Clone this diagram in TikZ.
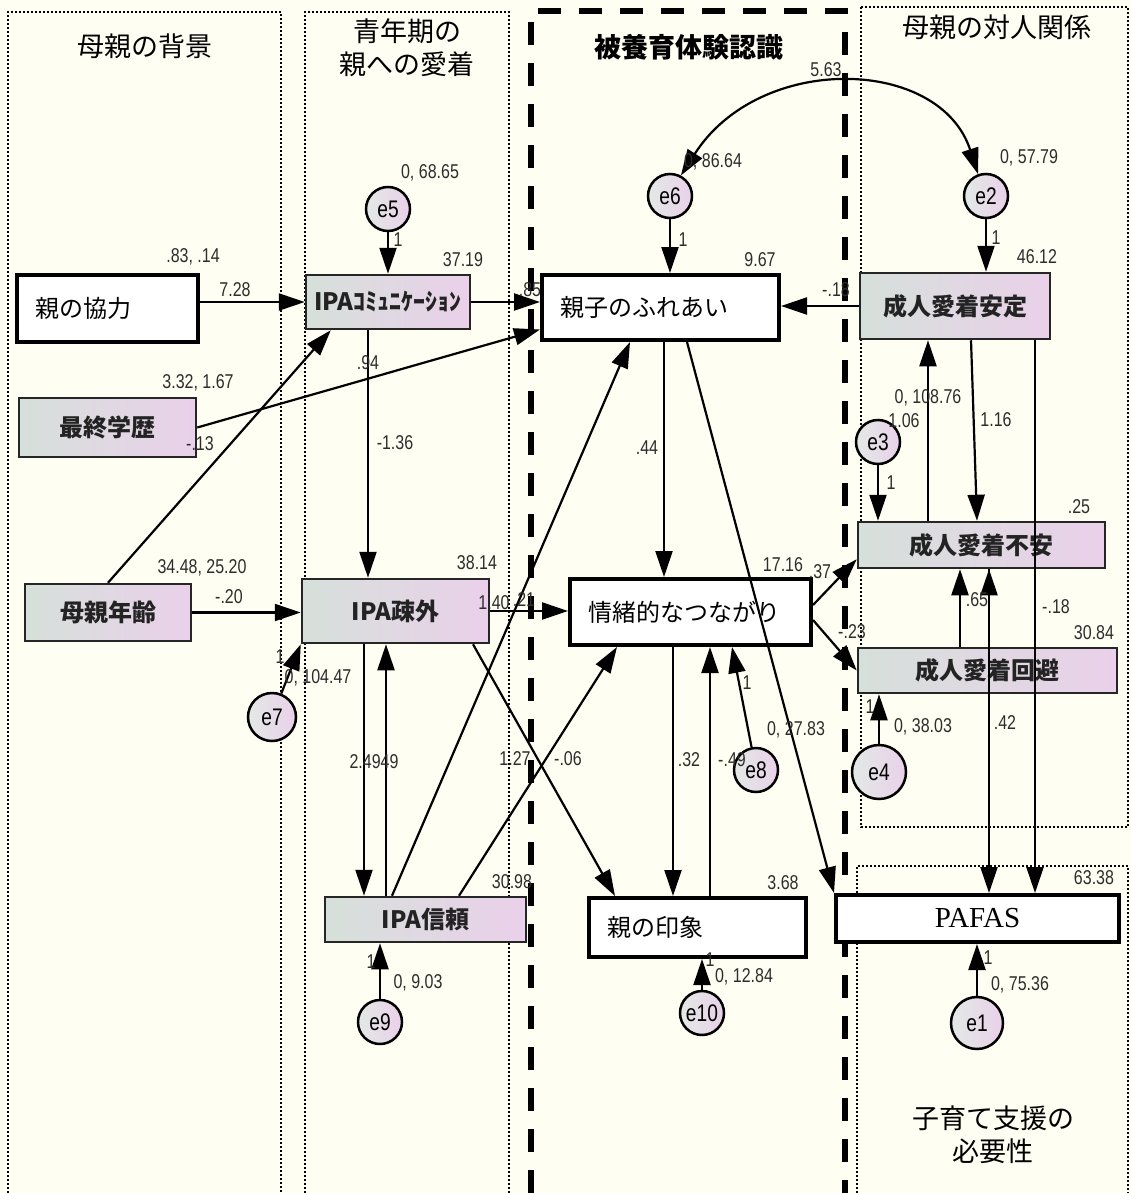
\documentclass[tikz,border=0pt]{standalone}
\usepackage{fontspec}
\newfontfamily\jpfont{Noto Sans CJK JP}
\newfontfamily\numfont[FakeStretch=0.8]{Liberation Sans}
\newfontfamily\latinserif{Liberation Serif}
\usepackage{tikz}
\usetikzlibrary{
	arrows.meta
}
\definecolor{bgcream}{RGB}{254,254,242}
\definecolor{gleft}{RGB}{214,224,218}
\definecolor{gright}{RGB}{234,208,234}
\definecolor{numgray}{RGB}{45,45,45}
\definecolor{boxtext}{RGB}{35,35,35}

\begin{document}
\begin{tikzpicture}[x=1pt,y=-1pt,
		>={Triangle[length=26pt,width=17pt]},
		conn/.style={draw,line width=2.2pt,->},
		dotline/.style={line width=2pt,dash pattern=on 2pt off 2pt},
		dashline/.style={line width=5.5pt,dash pattern=on 23pt off 18pt},
		ttl/.style={font=\jpfont\fontsize{27}{33}\selectfont,align=center,inner sep=0pt},
		wbox/.style={draw,line width=4pt,fill=white,font=\jpfont\fontsize{24}{24}\selectfont,
			align=left,inner xsep=18pt,inner ysep=0pt},
		gbox/.style={draw=black!85,line width=2.5pt,left color=gleft,right color=gright,
			text=boxtext,font=\jpfont\bfseries\fontsize{24}{24}\selectfont,inner sep=0pt},
		err/.style={circle,draw,line width=2.5pt,left color=gleft!70,right color=gright,
			minimum size=44pt,inner sep=0pt,font=\numfont\fontsize{24}{24}\selectfont},
		lbl/.style={font=\numfont\fontsize{20}{20}\selectfont,text=numgray,inner sep=0pt}
	]
	\useasboundingbox (0,0) rectangle (1131,1193);
	\fill[bgcream] (0,0) rectangle (1131,1193);

	% panels
	\draw[dotline] (8,1193) |- (281,12) -- (281,1193);
	\draw[dotline] (305,1193) |- (509,12) -- (509,1193);
	\draw[dotline] (861,7) rectangle (1128,827);
	\draw[dotline] (857,1193) |- (1128,866) -- (1128,1193);
	\draw[dashline] (531,1193) |- (845,11) -- (845,1193);

	\node[ttl] (tback)  at (145,46)   {母親の背景};
	\node[ttl] (tadol)  at (407,48)   {青年期の\\親への愛着};
	\node[ttl,font=\jpfont\bfseries\fontsize{27}{33}\selectfont] (tcare) at (689,47) {被養育体験認識};
	\node[ttl] (tinter) at (997,27)   {母親の対人関係};
	\node[ttl] (tneed)  at (993,1135) {子育て支援の\\必要性};

	% observed variables
	\node[wbox,text width=145pt,minimum height=67pt] (kyoryoku)  at (107.5,308.5) {親の協力};
	\node[gbox,minimum width=177pt,minimum height=59pt] (gakureki) at (107.5,427.5) {最終学歴};
	\node[gbox,minimum width=166pt,minimum height=57pt] (nenrei)   at (108,612.5)   {母親年齢};
	\node[gbox,minimum width=164pt,minimum height=54pt] (comm)     at (388,302)     {IPAｺﾐｭﾆｹｰｼｮﾝ};
	\node[gbox,minimum width=187pt,minimum height=64pt] (sogai)    at (395.5,611)   {IPA疎外};
	\node[gbox,minimum width=201pt,minimum height=45pt] (shinrai)  at (425.5,919.5) {IPA信頼};
	\node[wbox,text width=201pt,minimum height=65pt] (fureai)    at (660.5,307.5) {親子のふれあい};
	\node[wbox,text width=205pt,minimum height=66pt] (tsunagari) at (690.5,612)   {情緒的なつながり};
	\node[wbox,text width=181pt,minimum height=59pt] (inshou)    at (697.5,927.5) {親の印象};
	\node[wbox,text width=247pt,minimum height=47pt,align=center,
		font=\latinserif\fontsize{29}{29}\selectfont] (pafas) at (977.5,918.5) {\raisebox{-7pt}{PAFAS}};
	\node[gbox,minimum width=190pt,minimum height=66pt] (antei) at (955,306)     {成人愛着安定};
	\node[gbox,minimum width=247pt,minimum height=46pt] (fuan)  at (981.5,545)   {成人愛着不安};
	\node[gbox,minimum width=259pt,minimum height=45pt] (kaihi) at (987.5,670.5) {成人愛着回避};

	% error terms
	\node[err] (e5) at (388,209) {e5};
	\node[err] (e6) at (670,196) {e6};
	\node[err] (e2) at (986,196) {e2};
	\node[err] (e3) at (878,442) {e3};
	\node[err,minimum size=48pt] (e7) at (272,717) {e7};
	\node[err] (e8) at (756,770) {e8};
	\node[err,minimum size=54pt] (e4) at (879,772) {e4};
	\node[err] (e9) at (380,1022) {e9};
	\node[err] (e10) at (702,1013) {e10};
	\node[err,minimum size=52pt] (e1) at (977,1023) {e1};

	% paths
	\draw[conn]
		(kyoryoku.east |- comm.west) edge (comm.west)
		(comm.east) edge (comm.east -| fureai.west)
		(gakureki.east) edge ([yshift=-22pt]fureai.west)
		(nenrei.north) edge ([xshift=26pt]comm.south west)
		(nenrei.east) edge (nenrei.east -| sogai.west)
		([xshift=-20pt]comm.south) edge ([xshift=-27.5pt]sogai.north)
		([xshift=-31.5pt]sogai.south) edge ([xshift=-61.5pt]shinrai.north)
		([xshift=-39.5pt]shinrai.north) edge ([xshift=-9.5pt]sogai.south)
		([xshift=-33.5pt]shinrai.north) edge ([xshift=-30.5pt]fureai.south)
		([xshift=33.5pt]shinrai.north) edge ([xshift=-73.5pt]tsunagari.south)
		(sogai.east) edge (sogai.east -| tsunagari.west)
		([xshift=77.5pt]sogai.south) edge ([xshift=-82.5pt]inshou.north)
		([xshift=3.5pt]fureai.south) edge ([xshift=-26.5pt]tsunagari.north)
		([xshift=26.5pt]fureai.south) edge (pafas.north west)
		(antei.west) edge (antei.west -| fureai.east)
		([xshift=-17.5pt]tsunagari.south) edge ([xshift=-24.5pt]inshou.north)
		([xshift=12.5pt]inshou.north) edge ([xshift=19.5pt]tsunagari.south)
		([yshift=7pt]tsunagari.east) edge ([yshift=10pt]fuan.south west)
		([yshift=-8pt]tsunagari.east) edge (kaihi.west)
		([xshift=16pt]antei.south) edge ([xshift=-4.5pt]fuan.north)
		([xshift=-53.5pt]fuan.north) edge ([xshift=-27pt]antei.south)
		([xshift=-27.5pt]kaihi.north) edge ([xshift=-21.5pt]fuan.south)
		([xshift=80pt]antei.south) edge ([xshift=57.5pt]pafas.north)
		([xshift=7.5pt]fuan.south) edge ([xshift=11.5pt]pafas.north)
		(e5) edge (comm.north)
		(e6) edge (e6 |- fureai.north)
		(e2) edge (e2 |- antei.north)
		(e3) edge (e3 |- fuan.north)
		(e7) edge (sogai.south west)
		(e8) edge ([xshift=41.5pt]tsunagari.south)
		(e4) edge (e4 |- kaihi.south)
		(e9) edge (e9 |- shinrai.south)
		(e10) edge (e10 |- inshou.south)
		(e1) edge (e1 |- pafas.south)
	;
	\draw[conn,<->] (e6.62) .. controls (760,52) and (940,57) .. (e2.110);

	% estimates
	\path
		(430,173)  node[lbl] (v5)  {0, 68.65}
		(398,240)  node[lbl] (f5)  {1}
		(193,257)  node[lbl] (vkyo) {.83, .14}
		(463,260)  node[lbl] (icom) {37.19}
		(235,290)  node[lbl] (wkyo) {7.28}
		(530,290)  node[lbl] (wcom) {.85}
		(713,162)  node[lbl] (v6)  {0, 86.64}
		(826,70)   node[lbl] (c62) {5.63}
		(1029,158) node[lbl] (v2)  {0, 57.79}
		(683,240)  node[lbl] (f6)  {1}
		(996,238)  node[lbl] (f2)  {1}
		(760,260)  node[lbl] (ifur) {9.67}
		(1037,257) node[lbl] (iant) {46.12}
		(836,290)  node[lbl] (want) {-.18}
		(198,383)  node[lbl] (vgak) {3.32, 1.67}
		(200,444)  node[lbl] (wgak) {-.13}
		(368,363)  node[lbl] (wnen) {.94}
		(395,443)  node[lbl] (wcs)  {-1.36}
		(647,448)  node[lbl] (wft)  {.44}
		(928,398)  node[lbl] (v3)   {0, 108.76}
		(904,421)  node[lbl] (wfa)  {1.06}
		(996,420)  node[lbl] (waf)  {1.16}
		(891,483)  node[lbl] (f3)   {1}
		(1079,507) node[lbl] (ifua) {.25}
		(202,568)  node[lbl] (vnen) {34.48, 25.20}
		(477,563)  node[lbl] (isog) {38.14}
		(229,597)  node[lbl] (wns)  {-.20}
		(494,603)  node[lbl] (wst)  {1.40}
		(524,600)  node[lbl] (wsf)  {.21}
		(783,565)  node[lbl] (itsu) {17.16}
		(820,572)  node[lbl] (wtf)  {.37}
		(852,632)  node[lbl] (wtk)  {-.23}
		(977,600)  node[lbl] (wkf)  {.65}
		(1056,607) node[lbl] (wap)  {-.18}
		(1094,633) node[lbl] (ikai) {30.84}
		(280,657)  node[lbl] (f7)   {1}
		(318,678)  node[lbl] (v7)   {0, 104.47}
		(747,683)  node[lbl] (f8)   {1}
		(870,707)  node[lbl] (f4)   {1}
		(923,727)  node[lbl] (v4)   {0, 38.03}
		(1005,723) node[lbl] (wfp)  {.42}
		(796,730)  node[lbl] (v8)   {0, 27.83}
		(374,762)  node[lbl] (wss)  {2.4949}
		(515,759)  node[lbl] (wrt)  {1.27}
		(568,759)  node[lbl] (wsi)  {-.06}
		(689,760)  node[lbl] (wti)  {.32}
		(732,760)  node[lbl] (wit)  {-.49}
		(512,882)  node[lbl] (ishi) {30.98}
		(783,883)  node[lbl] (iins) {3.68}
		(1094,878) node[lbl] (ipaf) {63.38}
		(371,962)  node[lbl] (f9)   {1}
		(418,983)  node[lbl] (v9)   {0, 9.03}
		(710,960)  node[lbl] (f10)  {1}
		(744,977)  node[lbl] (v10)  {0, 12.84}
		(988,958)  node[lbl] (f1)   {1}
		(1020,985) node[lbl] (v1)   {0, 75.36}
	;
\end{tikzpicture}
\end{document}
